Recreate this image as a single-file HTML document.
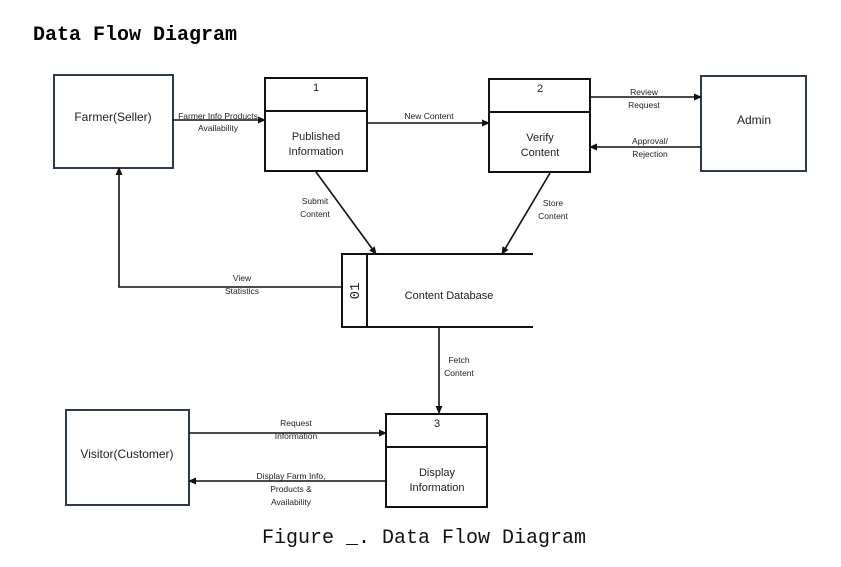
<!DOCTYPE html>
<html><head><meta charset="utf-8"><style>
html,body{margin:0;padding:0;background:#fff;width:841px;height:567px;overflow:hidden}
</style></head><body>
<svg width="841" height="567" viewBox="0 0 841 567" xmlns="http://www.w3.org/2000/svg">
<defs><marker id="a" markerWidth="8" markerHeight="8" refX="7" refY="4" orient="auto" markerUnits="userSpaceOnUse"><path d="M0,0.5 L8,4 L0,7.5 z" fill="#111"/></marker></defs>
<text x="33" y="40" font-family="Liberation Mono, monospace" font-weight="bold" font-size="20" fill="#000">Data Flow Diagram</text>
<g fill="none" stroke-width="2">
<rect x="54" y="75" width="119" height="93" stroke="#2e3a52"/>
<rect x="701" y="76" width="105" height="95" stroke="#2e3a52"/>
<rect x="66" y="410" width="123" height="95" stroke="#2e3a52"/>
<g stroke="#111">
<rect x="265" y="78" width="102" height="93"/><line x1="265" y1="111" x2="367" y2="111"/>
<rect x="489" y="79" width="101" height="93"/><line x1="489" y1="112" x2="590" y2="112"/>
<rect x="386" y="414" width="101" height="93"/><line x1="386" y1="447" x2="487" y2="447"/>
<path d="M533,254 H342 V327 H533"/><line x1="367" y1="254" x2="367" y2="327"/>
</g>
</g>
<g stroke="#111" stroke-width="1.6" fill="none" marker-end="url(#a)">
<line x1="173" y1="120" x2="265" y2="120"/>
<line x1="367" y1="123" x2="489" y2="123"/>
<line x1="590" y1="97" x2="701" y2="97"/>
<line x1="701" y1="147" x2="590" y2="147"/>
<line x1="316" y1="172" x2="376" y2="254"/>
<line x1="550" y1="173" x2="502" y2="254"/>
<path d="M342,287 H119 V168"/>
<line x1="439" y1="327" x2="439" y2="413"/>
<line x1="189" y1="433" x2="386" y2="433"/>
<line x1="386" y1="481" x2="189" y2="481"/>
</g>
<g font-family="Liberation Sans, sans-serif" fill="#222" text-anchor="middle">
<text x="113" y="121" font-size="12">Farmer(Seller)</text>
<text x="754" y="124" font-size="12">Admin</text>
<text x="127" y="458" font-size="12">Visitor(Customer)</text>
<g font-size="11">
<text x="316" y="91">1</text>
<text x="316" y="140">Published</text><text x="316" y="155">Information</text>
<text x="540" y="92">2</text>
<text x="540" y="141">Verify</text><text x="540" y="156">Content</text>
<text x="437" y="427">3</text>
<text x="437" y="476">Display</text><text x="437" y="491">Information</text>
<text x="449" y="299">Content Database</text>
</g>
<text x="0" y="0" font-size="14" font-family="Liberation Mono, monospace" transform="translate(359,291) rotate(-90)">01</text>
<g font-size="8.5">
<text x="218" y="119">Farmer Info Products</text><text x="218" y="131">Availability</text>
<text x="429" y="119">New Content</text>
<text x="644" y="95">Review</text><text x="644" y="108">Request</text>
<text x="650" y="144">Approval/</text><text x="650" y="157">Rejection</text>
<text x="315" y="204">Submit</text><text x="315" y="217">Content</text>
<text x="553" y="206">Store</text><text x="553" y="219">Content</text>
<text x="242" y="281">View</text><text x="242" y="294">Statistics</text>
<text x="459" y="363">Fetch</text><text x="459" y="376">Content</text>
<text x="296" y="426">Request</text><text x="296" y="439">Information</text>
<text x="291" y="479">Display Farm Info,</text><text x="291" y="492">Products &amp;</text><text x="291" y="505">Availability</text>
</g>
</g>
<text x="424" y="543" text-anchor="middle" font-family="Liberation Mono, monospace" font-size="20" fill="#111">Figure _. Data Flow Diagram</text>
</svg>
</body></html>
